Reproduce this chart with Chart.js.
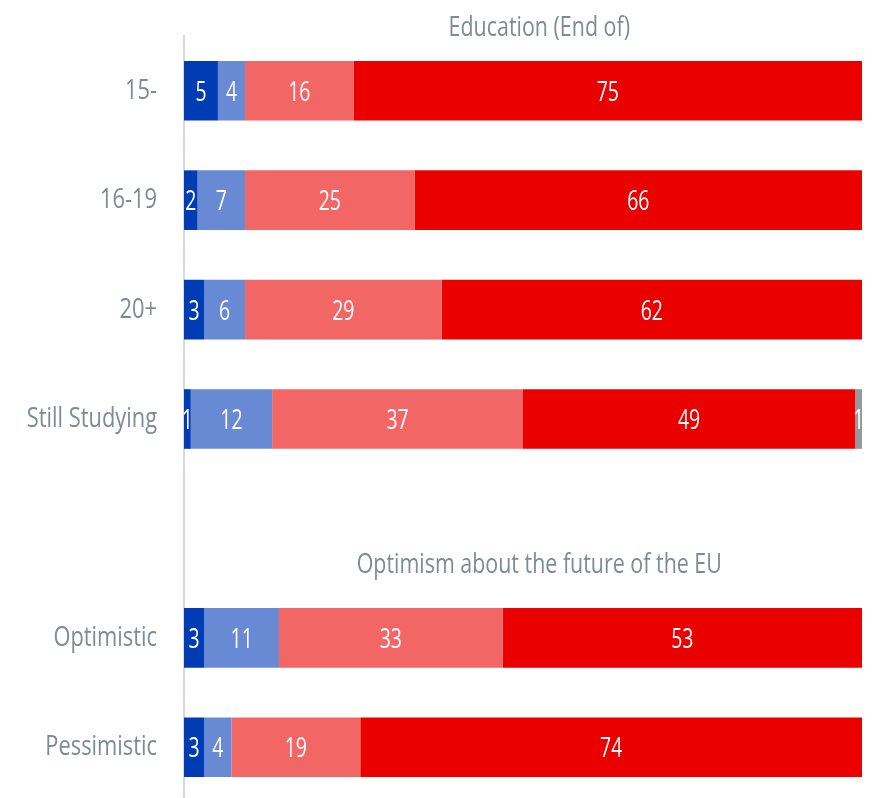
<!DOCTYPE html>
<html>
<head>
<meta charset="utf-8">
<script src="https://cdn.jsdelivr.net/npm/chart.js@4/dist/chart.umd.min.js"></script>
<style>
  html, body { margin: 0; padding: 0; background: #ffffff; overflow: hidden; }
</style>
</head>
<body>
<canvas id="c" width="874" height="802"></canvas>
<script>
const categories = ['15-', '16-19', '20+', 'Still Studying', '', 'Optimistic', 'Pessimistic'];
const seriesNames = ['Totally agree', 'Tend to agree', 'Tend to disagree', 'Totally disagree', "Don't know"];
const totallyAgree    = [5, 2, 3, 1, null, 3, 3];
const tendToAgree     = [4, 7, 6, 12, null, 11, 4];
const tendToDisagree  = [16, 25, 29, 37, null, 33, 19];
const totallyDisagree = [75, 66, 62, 49, null, 53, 74];
const dontKnow        = [0, 0, 0, 1, null, 0, 0];
const groupTitles = ['Education (End of)', 'Optimism about the future of the EU'];
const groupFirstCategory = [0, 5];

const colors = ['#003db5', '#6889d3', '#f36666', '#eb0000', '#999999'];
const seriesValues = [totallyAgree, tendToAgree, tendToDisagree, totallyDisagree, dontKnow];
const fontFamily = "'Open Sans', 'Noto Sans', sans-serif";
const greyText = '#7e8b94';

function squeezedText(ctx, text, x, y, sx) {
  ctx.save();
  ctx.translate(x, y);
  ctx.scale(sx, 1);
  ctx.fillText(text, 0, 0);
  ctx.restore();
}

const valueLabels = {
  id: 'valueLabels',
  afterDatasetsDraw(chart) {
    const ctx = chart.ctx;
    ctx.save();
    ctx.fillStyle = '#ffffff';
    ctx.font = "27px " + fontFamily;
    ctx.textAlign = 'center';
    ctx.textBaseline = 'alphabetic';
    chart.data.datasets.forEach((ds, di) => {
      const meta = chart.getDatasetMeta(di);
      meta.data.forEach((el, i) => {
        const v = ds.data[i];
        if (v === null || v === 0) return;
        const p = el.getCenterPoint();
        squeezedText(ctx, String(v), p.x, p.y + 10, 0.72);
      });
    });
    ctx.restore();
  }
};

const categoryLabels = {
  id: 'categoryLabels',
  afterDraw(chart) {
    const ctx = chart.ctx;
    const ys = chart.scales.y;
    ctx.save();
    ctx.fillStyle = greyText;
    ctx.font = "28px " + fontFamily;
    ctx.textAlign = 'right';
    ctx.textBaseline = 'alphabetic';
    categories.forEach((c, i) => {
      if (!c) return;
      squeezedText(ctx, c, chart.chartArea.left - 27, ys.getPixelForValue(i) + 8, 0.78);
    });
    const headerOffsets = [54.5, 64.5];
    ctx.textAlign = 'center';
    groupTitles.forEach((t, k) => {
      const y = ys.getPixelForValue(groupFirstCategory[k]) - headerOffsets[k];
      squeezedText(ctx, t, chart.scales.x.getPixelForValue(52.4), y, 0.765);
    });
    ctx.restore();
  }
};

new Chart(document.getElementById('c'), {
  type: 'bar',
  data: {
    labels: categories,
    datasets: seriesValues.map((vals, i) => ({
      label: seriesNames[i],
      data: vals,
      backgroundColor: colors[i],
      borderWidth: 0,
      barPercentage: 0.545,
      categoryPercentage: 1
    }))
  },
  options: {
    indexAxis: 'y',
    responsive: false,
    animation: false,
    layout: { padding: { top: 36, right: 12, bottom: 0, left: 0 } },
    plugins: {
      legend: { display: false },
      tooltip: { enabled: false },
      title: { display: false }
    },
    scales: {
      x: {
        stacked: true,
        min: 0,
        max: 100,
        display: false
      },
      y: {
        stacked: true,
        grid: { display: false, drawTicks: false },
        border: { display: true, color: '#d9d9d9', width: 2 },
        ticks: { display: false },
        afterFit(scale) { scale.width = 184; }
      }
    }
  },
  plugins: [valueLabels, categoryLabels]
});
</script>
</body>
</html>
